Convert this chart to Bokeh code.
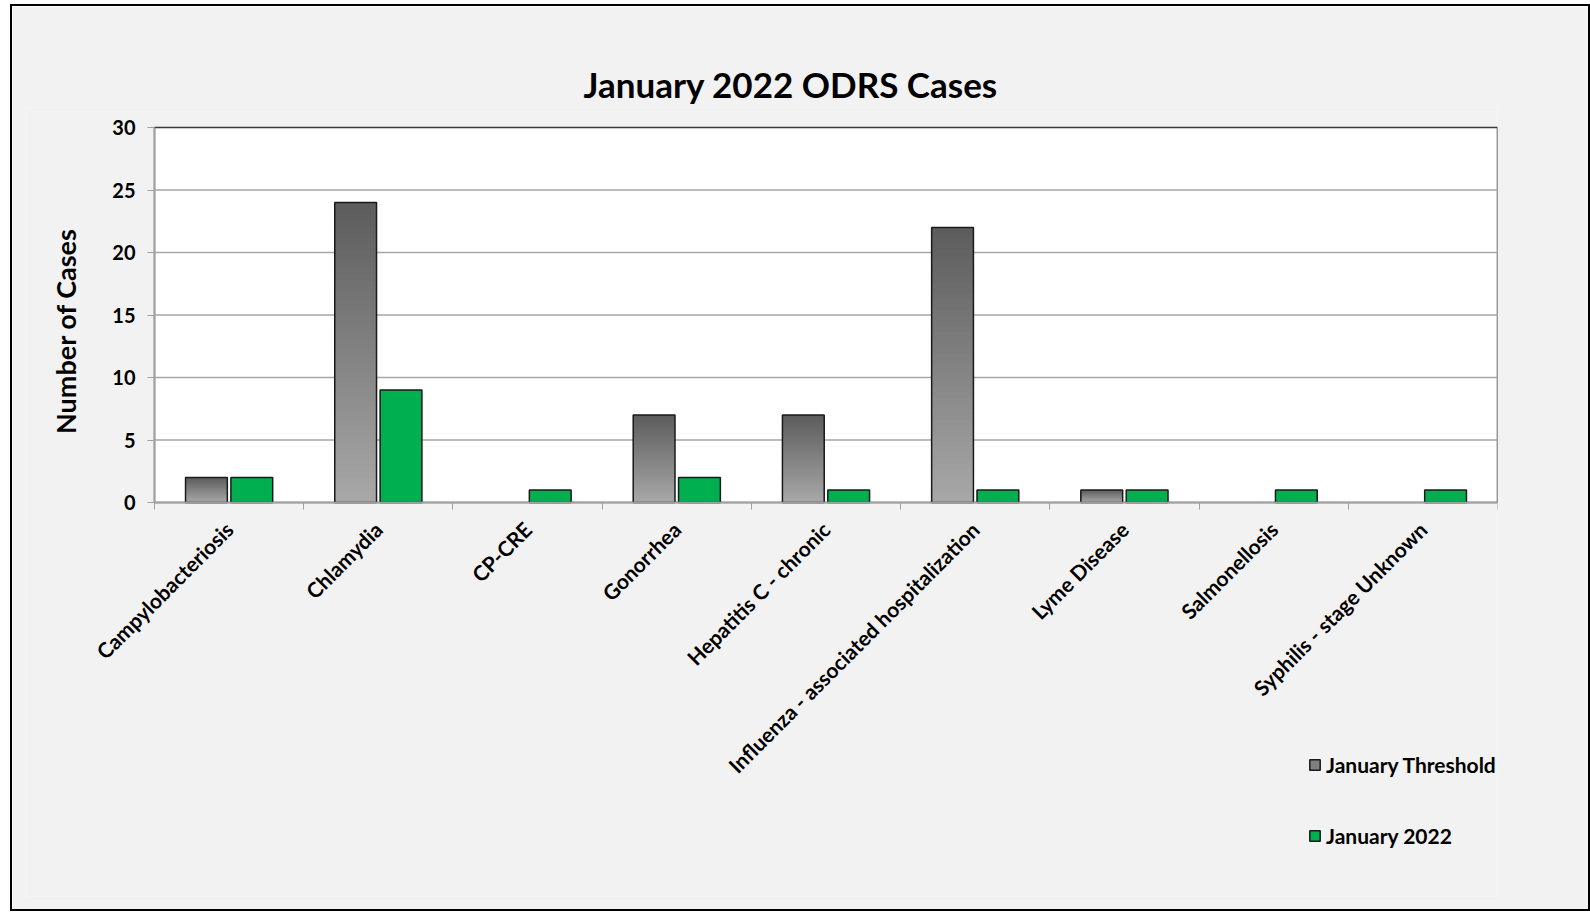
import math
from bokeh.plotting import figure
from bokeh.models import (ColumnDataSource, FixedTicker, Legend, LegendItem, Range1d,
                          BoxAnnotation, Label)
from bokeh.embed import file_html
from bokeh.resources import INLINE

# ---- data ----
categories = ["Campylobacteriosis", "Chlamydia", "CP-CRE", "Gonorrhea",
              "Hepatitis C - chronic", "Influenza - associated hospitalization",
              "Lyme Disease", "Salmonellosis", "Syphilis - stage Unknown"]
threshold = [2, 24, 0, 7, 7, 22, 1, 0, 0]
jan2022 = [2, 9, 1, 2, 1, 1, 1, 1, 1]
y_ticks = [0, 5, 10, 15, 20, 25, 30]
y_max = 30
series_names = ["January Threshold", "January 2022"]
title_text = "January 2022 ODRS Cases"
y_title = "Number of Cases"

FONT = "Lato"
BAR_W = 0.28
OFF = 0.152
n = len(categories)

# geometry: plot area is 1343 x 375 px; the frame is larger so that the axes' labels,
# the rotated category names and the legend all live inside it
PLOT_W, PLOT_H = 1343, 375
LEFT_EXTRA = 128
TOP_EXTRA = 20
BOTTOM_EXTRA = 394
FRAME_W = PLOT_W + LEFT_EXTRA
FRAME_H = PLOT_H + TOP_EXTRA + BOTTOM_EXTRA
px_per_cat = PLOT_W / n
px_per_unit = PLOT_H / y_max
x_start = -0.5 - LEFT_EXTRA / px_per_cat
y_start = -BOTTOM_EXTRA / px_per_unit
y_end = y_max + TOP_EXTRA / px_per_unit

p = figure(frame_width=FRAME_W, frame_height=FRAME_H, output_backend="svg",
           toolbar_location=None, x_range=Range1d(x_start, n - 0.5),
           y_range=Range1d(y_start, y_end), min_border_left=14, min_border_right=91,
           min_border_top=121 - TOP_EXTRA, min_border_bottom=13)
p.styles = {"border": "2px solid #000000", "margin-left": "10px", "margin-top": "4px"}
p.border_fill_color = "#f2f2f2"
p.background_fill_color = "#f2f2f2"
p.outline_line_color = None

# white plot area with dark outline
p.add_layout(BoxAnnotation(bottom=0, top=y_max, left=-0.5, right=n - 0.5,
                           fill_color="#ffffff", fill_alpha=1.0,
                           line_color="#3a3a3a", line_alpha=1.0, line_width=1.5,
                           level="image"))

# horizontal gridlines across the plot area only
grid_ticks = [t for t in y_ticks if 0 < t < y_max]
p.segment(x0=[-0.5] * len(grid_ticks), x1=[n - 0.5] * len(grid_ticks),
          y0=grid_ticks, y1=grid_ticks, line_color="#a6a6a6", line_width=1.5)
p.xgrid.grid_line_color = None
p.ygrid.grid_line_color = None

# title
p.title.text = title_text
p.title.align = "left"
p.title.offset = 429 + LEFT_EXTRA
p.title.standoff = 6
p.title.text_font = FONT
p.title.text_font_style = "bold"
p.title.text_font_size = "35px"
p.title.text_color = "#000000"

# gradient gray bars built from overlapping layers (tallest/darkest first)
N = 50
top_c = 0x5c
bot_c = 0xa8
sx, st, sc = [], [], []
for i, h in enumerate(threshold):
    if h <= 0:
        continue
    for k in range(N):
        frac_top = (N - k) / N
        f = (N - k - 0.5) / N
        g = int(round(bot_c + (top_c - bot_c) * f))
        sx.append(i - OFF)
        st.append(h * frac_top)
        sc.append("#%02x%02x%02x" % (g, g, g))
p.vbar(x="x", bottom=0, top="t", width=BAR_W, fill_color="c", line_color=None,
       source=ColumnDataSource(dict(x=sx, t=st, c=sc)))

tx = [i - OFF for i, h in enumerate(threshold) if h > 0]
th = [h for h in threshold if h > 0]
p.vbar(x=tx, top=th, width=BAR_W, fill_color=None, line_color="#1a1a1a", line_width=1.5)

gx = [i + OFF for i, h in enumerate(jan2022) if h > 0]
gh = [h for h in jan2022 if h > 0]
green = p.vbar(x=gx, top=gh, width=BAR_W, fill_color="#00b050", line_color="#1a1a1a",
               line_width=1.5)

# legend (gray swatch from a hidden copy of the threshold bars)
lg1 = p.vbar(x=tx, top=th, width=BAR_W, fill_color="#7f7f7f", line_color="#1a1a1a",
             line_width=1.5, visible=False)
legend = Legend(items=[LegendItem(label=series_names[0], renderers=[lg1]),
                       LegendItem(label=series_names[1], renderers=[green])],
                location=(1308 - 154 + LEFT_EXTRA, 48), orientation="vertical",
                glyph_width=13, glyph_height=13, label_height=24,
                label_text_font=FONT, label_text_font_style="bold",
                label_text_font_size="21px", label_text_color="#000000",
                label_standoff=5, spacing=46, padding=0, margin=0,
                border_line_color=None, background_fill_alpha=0,
                inactive_fill_alpha=0)
p.add_layout(legend, "center")

# y axis at the left edge of the plot area
p.yaxis.fixed_location = -0.5
p.yaxis.ticker = FixedTicker(ticks=y_ticks)
p.yaxis.bounds = (0, y_max)
p.yaxis.major_label_text_font = FONT
p.yaxis.major_label_text_font_style = "bold"
p.yaxis.major_label_text_font_size = "20px"
p.yaxis.major_label_text_color = "#000000"
p.yaxis.major_label_standoff = 12
p.yaxis.axis_line_color = "#a0a0a0"
p.yaxis.axis_line_width = 1.5
p.yaxis.major_tick_line_color = "#a0a0a0"
p.yaxis.major_tick_out = 7
p.yaxis.major_tick_in = 0
p.yaxis.minor_tick_line_color = None

# y axis title
p.add_layout(Label(x=-0.5, y=y_max / 2, x_offset=-89, y_offset=-16, text=y_title,
                   angle=math.pi / 2, text_align="center", text_baseline="middle",
                   text_font=FONT, text_font_style="bold", text_font_size="27px",
                   text_color="#000000"))

# x axis, drawn at y = 0
p.xaxis.fixed_location = 0
p.xaxis.bounds = (-0.5, n - 0.5)
p.xaxis.ticker = FixedTicker(ticks=list(range(n)),
                             minor_ticks=[i - 0.5 for i in range(n + 1)])
p.xaxis.major_label_overrides = {i: c for i, c in enumerate(categories)}
p.xaxis.major_label_orientation = math.pi / 4
p.xaxis.major_label_text_font = FONT
p.xaxis.major_label_text_font_style = "bold"
p.xaxis.major_label_text_font_size = "21px"
p.xaxis.major_label_text_color = "#000000"
p.xaxis.major_label_standoff = 16
p.xaxis.major_tick_line_color = None
p.xaxis.minor_tick_line_color = "#a0a0a0"
p.xaxis.minor_tick_out = 7
p.xaxis.minor_tick_in = 0
p.xaxis.axis_line_color = "#a0a0a0"
p.xaxis.axis_line_width = 1.5

open("out.html", "w").write(file_html(p, INLINE))
